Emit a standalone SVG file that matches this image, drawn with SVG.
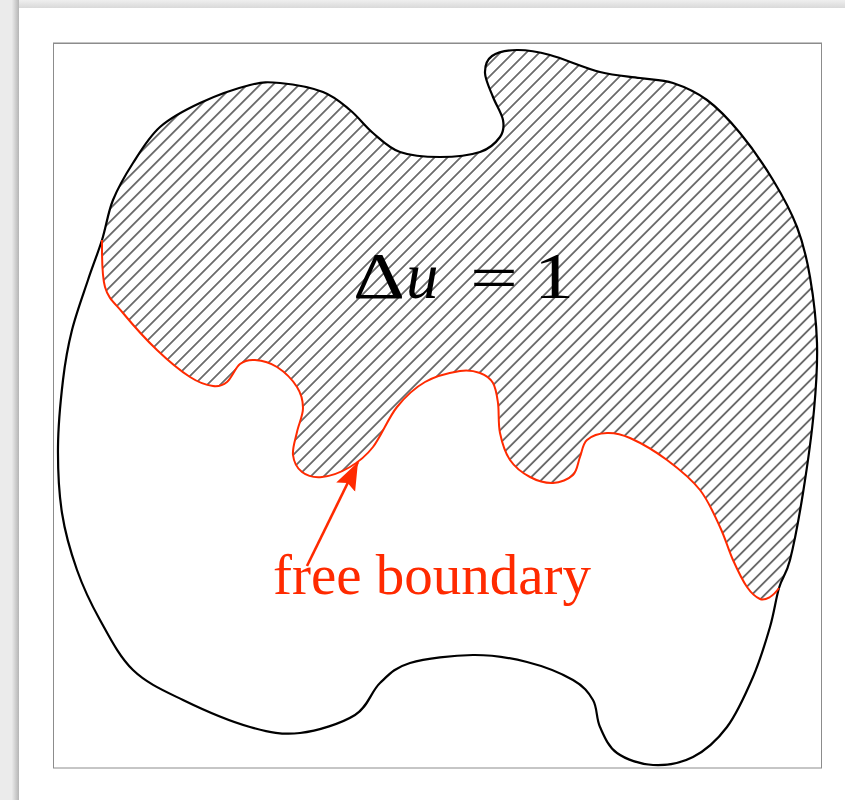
<svg xmlns="http://www.w3.org/2000/svg" width="845" height="800" viewBox="0 0 845 800">
<style>
.outer{fill:none;stroke:#000;stroke-width:2.2;stroke-linejoin:round}
.free{fill:none;stroke:#ff2a00;stroke-width:2;stroke-linejoin:round}
.math{font-family:"Liberation Serif","Times New Roman",serif;font-size:65px;fill:#000}
.lbl{font-family:"Liberation Serif","Times New Roman",serif;font-size:57px;fill:#ff2a00}
.arrow{stroke:#ff2a00;stroke-width:2.6;fill:none}
</style>
<defs>
<pattern id="hatch" patternUnits="userSpaceOnUse" width="9.2" height="10" patternTransform="rotate(45)">
<line x1="4.6" y1="-1" x2="4.6" y2="11" stroke="#1a1a1a" stroke-width="1.2"/>
</pattern>
<clipPath id="aboveFree">
<path d="M102,240 C102,256 101.5,274.8 105,287 S114.3,302.5 123,313 S145.8,339.3 157,350 S180.7,371 190,377 S206.8,385.2 213,386 S222.5,385.7 227,382 S235.3,367.7 240,364 S248.8,359.5 255,360 S270,362.5 277,367 S292.7,380.2 297,387 S303,400.5 303,408 S298.7,424.2 297,432 S292.2,448.3 293,455 S297.2,468.3 302,472 S314,477.8 322,477 S341.5,472 350,467 S365.2,457 373,447 S388.3,417.8 397,407 S414.5,388 425,382 S450.8,372.5 460,371 S474.5,371 480,373 S490,378 493,383 S496.8,394.7 498,403 S498,423.5 500,433 S505,452.7 510,460 S522.8,473.2 530,477 S545.8,483.3 553,483 S568.5,479.3 573,475 S577.7,462.8 580,457 S582.5,444 587,440 S599.8,433.3 607,433 S620,433.5 630,438 S655.3,451.3 667,460 S691.2,478.8 700,490 S714.5,515.3 720,527 S728.5,550 733,560 S742.5,580.5 747,587 S756.2,597.3 760,599 S766.8,598.8 770,597 S775,593.5 779,588 L845,588 L845,0 L0,0 L0,240 Z"/>
</clipPath>
<linearGradient id="leftShade" x1="0" y1="0" x2="1" y2="0">
<stop offset="0" stop-color="#e9e9e9"/>
<stop offset="1" stop-color="#b5b5b5"/>
</linearGradient>
<linearGradient id="topShade" x1="0" y1="0" x2="0" y2="1">
<stop offset="0" stop-color="#efefef"/>
<stop offset="1" stop-color="#d9d9d9"/>
</linearGradient>
<marker id="head" markerUnits="userSpaceOnUse" viewBox="0 -12 30 24" markerWidth="30" markerHeight="24" refX="28" refY="0" orient="auto">
<path d="M28,0 L0,-10.5 L4.5,0 L0,10.5 Z" fill="#ff2a00"/>
</marker>
</defs>

<g id="page">
<rect x="0" y="0" width="845" height="800" fill="#ebebeb"/>
<rect x="19" y="8" width="826" height="792" fill="#fff"/>
<rect x="19" y="0" width="826" height="8" fill="url(#topShade)"/>
<rect x="12" y="0" width="7" height="800" fill="url(#leftShade)"/>
</g>

<g id="frame">
<line x1="53" y1="42.5" x2="822" y2="42.5" stroke="#c4c4c4" stroke-width="1"/>
<rect x="53.5" y="43.5" width="768" height="724.5" fill="#fff" stroke="#8c8c8c" stroke-width="1"/>
</g>

<g id="domain">
<path id="hatched-region" clip-path="url(#aboveFree)" fill="url(#hatch)" stroke="none" d="M102,240 C106.2,226.7 107.8,212.8 113,200 S125.2,175.2 133,163 S148.8,137 160,127 S185,110 200,103 S236.7,88.3 250,85 S267.8,81.8 280,83 S311.3,87.5 323,92 S341.7,103.2 350,110 S364.7,126 373,133 S388.8,148 400,152 S426.7,157 440,157 S470,155.3 480,152 S496.2,142.3 500,137 S504.2,126.7 503,120 S496,104.8 493,97 S485.2,79.8 485,73 S486.7,59.8 492,56 S507.3,50.2 517,50 S536.2,51.3 550,55 S585,68.2 600,72 S627.8,76.2 640,78 S661.8,79.3 673,83 S695.8,91.7 707,100 S729,119.7 740,133 S763.5,164.3 773,180 S790.8,210.8 797,227 S806.7,257.7 810,277 S816.3,320.8 817,343 S816.3,385 814,410 S807,468 803,493 S794,544.2 790,560 S782.3,576.8 779,588 S774.3,612.2 770,627 S760.2,660.3 753,677 S737,713.7 727,727 S705.3,750.7 693,757 S665.7,765.7 653,765 S625.8,759.3 617,753 S604,735.8 600,727 S597.5,707.8 593,700 S584,686.3 573,680 S543.7,666.2 527,662 S492.5,654.8 473,655 S425.5,658.3 410,663 S389.2,674.3 380,683 S368.3,706.7 355,715 S317.5,731 300,733 S269.5,732.5 250,727 S202.5,709.5 183,700 S146.8,683.3 133,670 S109.3,636.7 100,620 S83.3,587.8 77,570 S65.2,533.5 62,513 S57.8,469.2 58,447 S60.7,399.5 63,380 S67.8,346.7 72,330 S83,295 88,280 S97.8,253.3 102,240 Z"/>
</g>

<g id="outer-boundary">
<path class="outer" d="M102,240 C106.2,226.7 107.8,212.8 113,200 S125.2,175.2 133,163 S148.8,137 160,127 S185,110 200,103 S236.7,88.3 250,85 S267.8,81.8 280,83 S311.3,87.5 323,92 S341.7,103.2 350,110 S364.7,126 373,133 S388.8,148 400,152 S426.7,157 440,157 S470,155.3 480,152 S496.2,142.3 500,137 S504.2,126.7 503,120 S496,104.8 493,97 S485.2,79.8 485,73 S486.7,59.8 492,56 S507.3,50.2 517,50 S536.2,51.3 550,55 S585,68.2 600,72 S627.8,76.2 640,78 S661.8,79.3 673,83 S695.8,91.7 707,100 S729,119.7 740,133 S763.5,164.3 773,180 S790.8,210.8 797,227 S806.7,257.7 810,277 S816.3,320.8 817,343 S816.3,385 814,410 S807,468 803,493 S794,544.2 790,560 S782.3,576.8 779,588 S774.3,612.2 770,627 S760.2,660.3 753,677 S737,713.7 727,727 S705.3,750.7 693,757 S665.7,765.7 653,765 S625.8,759.3 617,753 S604,735.8 600,727 S597.5,707.8 593,700 S584,686.3 573,680 S543.7,666.2 527,662 S492.5,654.8 473,655 S425.5,658.3 410,663 S389.2,674.3 380,683 S368.3,706.7 355,715 S317.5,731 300,733 S269.5,732.5 250,727 S202.5,709.5 183,700 S146.8,683.3 133,670 S109.3,636.7 100,620 S83.3,587.8 77,570 S65.2,533.5 62,513 S57.8,469.2 58,447 S60.7,399.5 63,380 S67.8,346.7 72,330 S83,295 88,280 S97.8,253.3 102,240 Z"/>
</g>

<g id="free-boundary">
<path class="free" d="M102,240 C102,256 101.5,274.8 105,287 S114.3,302.5 123,313 S145.8,339.3 157,350 S180.7,371 190,377 S206.8,385.2 213,386 S222.5,385.7 227,382 S235.3,367.7 240,364 S248.8,359.5 255,360 S270,362.5 277,367 S292.7,380.2 297,387 S303,400.5 303,408 S298.7,424.2 297,432 S292.2,448.3 293,455 S297.2,468.3 302,472 S314,477.8 322,477 S341.5,472 350,467 S365.2,457 373,447 S388.3,417.8 397,407 S414.5,388 425,382 S450.8,372.5 460,371 S474.5,371 480,373 S490,378 493,383 S496.8,394.7 498,403 S498,423.5 500,433 S505,452.7 510,460 S522.8,473.2 530,477 S545.8,483.3 553,483 S568.5,479.3 573,475 S577.7,462.8 580,457 S582.5,444 587,440 S599.8,433.3 607,433 S620,433.5 630,438 S655.3,451.3 667,460 S691.2,478.8 700,490 S714.5,515.3 720,527 S728.5,550 733,560 S742.5,580.5 747,587 S756.2,597.3 760,599 S766.8,598.8 770,597 S775,593.5 779,588"/>
</g>

<g id="label-equation">
<text class="math" x="353" y="298" textLength="52" lengthAdjust="spacingAndGlyphs">Δ</text>
<text class="math" x="406" y="298" font-style="italic">u</text>
<text class="math" x="470" y="300" textLength="48" lengthAdjust="spacingAndGlyphs">=</text>
<text class="math" x="534" y="298" textLength="40" lengthAdjust="spacingAndGlyphs">1</text>
</g>

<g id="label-free">
<text class="lbl" x="273" y="594">free boundary</text>
</g>

<g id="connectors">
<line class="arrow" x1="307" y1="566" x2="358" y2="462" marker-end="url(#head)"/>
</g>
</svg>
